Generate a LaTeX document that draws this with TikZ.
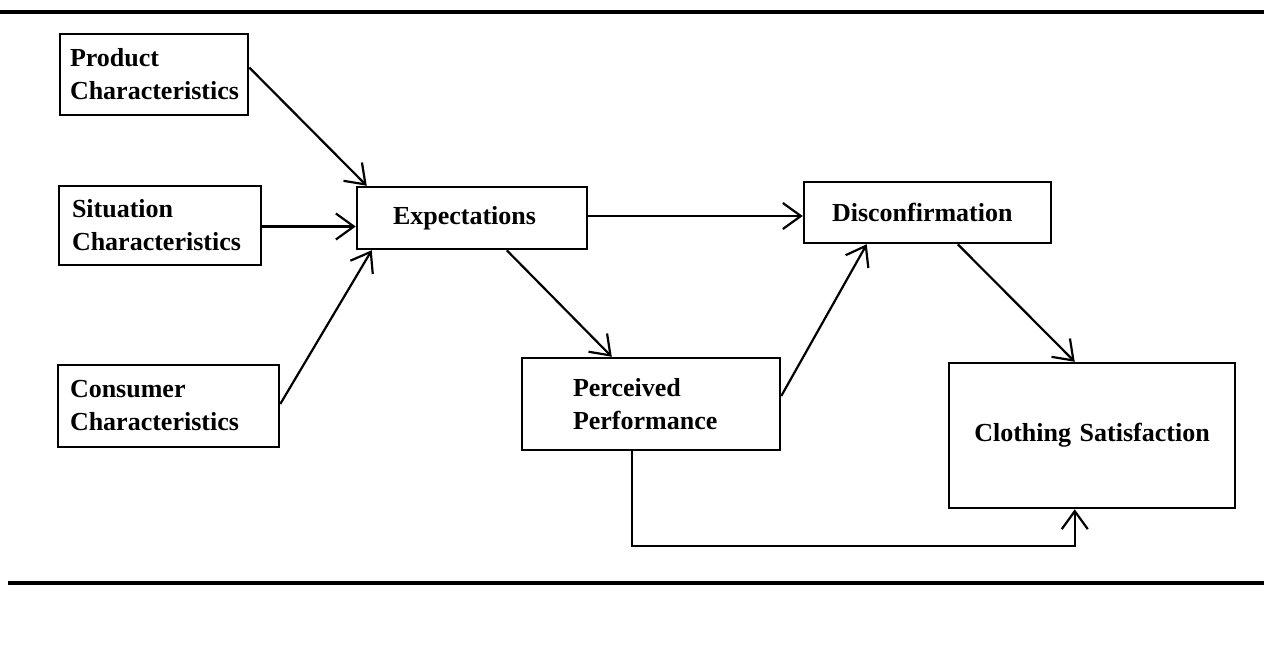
\documentclass[tikz,border=0pt]{standalone}
\usepackage{fontspec}
\setmainfont{Liberation Serif}
\usetikzlibrary{arrows.meta}
\begin{document}
\begin{tikzpicture}[x=1pt,y=-1pt,
  box/.style={draw,line width=2.5pt,rectangle,align=left,inner ysep=0pt,
    font=\fontsize{26}{33}\selectfont\bfseries},
  conn/.style={line width=2.2pt,-{Straight Barb[length=18pt,width=26pt,line width=2.2pt]}},
  rulebar/.style={line width=3.2pt}]
\useasboundingbox (0,0) rectangle (1264,656);
\draw[rulebar] (0,12) -- (1264,12);
\draw[rulebar] (8,583) -- (1264,583);
% boxes: center positions; width = text width + 2*xsep
\node[box,inner xsep=10pt,text width=168pt,minimum height=81pt] (prod) at (154,74.5) {Product\\Characteristics};
\node[box,inner xsep=13pt,text width=176pt,minimum height=79pt] (sit) at (160,225.5) {Situation\\Characteristics};
\node[box,inner xsep=12pt,text width=197pt,minimum height=82pt] (cons) at (168.5,406) {Consumer\\Characteristics};
\node[box,inner xsep=36pt,text width=158pt,minimum height=62pt] (exp) at (472,218) {Expectations};
\node[box,inner xsep=28pt,text width=191pt,minimum height=61pt] (disc) at (927.5,212.5) {Disconfirmation};
\node[box,inner xsep=51pt,text width=156pt,minimum height=92pt] (perc) at (651,404) {Perceived\\Performance};
\node[box,align=center,inner xsep=20pt,text width=246pt,minimum height=145pt] (cloth) at (1092,435.5) {Clothing Satisfaction};
% connectors
\draw[conn] ([yshift=7pt]prod.east) -- ([xshift=11pt]exp.north west);
\draw[conn] ([yshift=-1pt]sit.east) -- ([yshift=-1pt]sit.east -| exp.west);
\draw[conn] ([yshift=2pt]cons.east) -- ([xshift=16pt]exp.south west);
\draw[conn] ([yshift=2pt]exp.east) -- ([yshift=2pt]exp.east -| disc.west);
\draw[conn] ([xshift=151pt]exp.south west) -- ([xshift=91pt]perc.north west);
\draw[conn] ([yshift=8pt]perc.east) -- ([xshift=64pt]disc.south west);
\draw[conn] ([xshift=155pt]disc.south west) -- ([xshift=127pt]cloth.north west);
\draw[conn] ([xshift=111pt]perc.south west) -- ++(0,95) -| ([xshift=127pt]cloth.south west);
\end{tikzpicture}
\end{document}
